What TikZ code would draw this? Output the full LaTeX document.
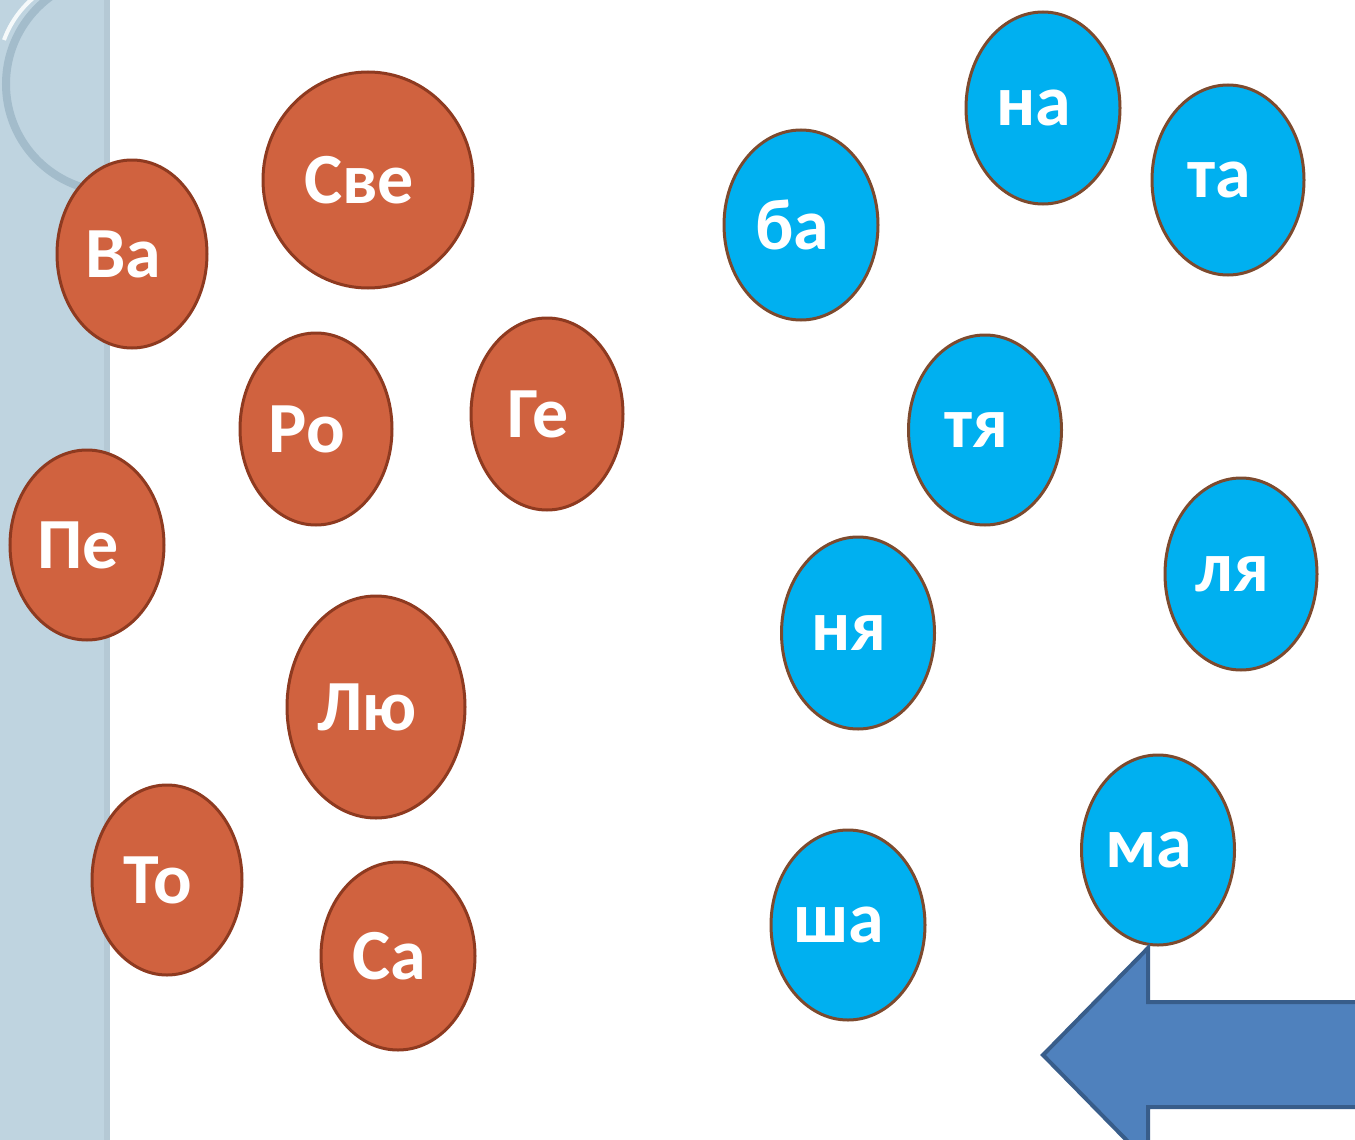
\documentclass[tikz,border=0pt]{standalone}
\usepackage{fontspec}
\setmainfont{Carlito}
\usetikzlibrary{shapes.geometric}
\definecolor{redfill}{HTML}{D0623F}
\definecolor{redline}{HTML}{8E3A20}
\definecolor{bluefill}{HTML}{00B0F0}
\definecolor{blueline}{HTML}{7D4A2E}
\definecolor{arrowfill}{HTML}{4F81BD}
\definecolor{arrowline}{HTML}{385D8A}
\definecolor{stripfill}{HTML}{BFD4E0}
\definecolor{stripring}{HTML}{A3BCCB}
\tikzset{
  syl/.style={ellipse, inner sep=0pt, line width=3pt, text=white,
    font=\fontsize{72}{80}\selectfont\bfseries,
    execute at end node={\hspace*{18pt}}},
  redsyl/.style={syl, draw=redline, fill=redfill},
  bluesyl/.style={syl, draw=blueline, fill=bluefill},
}
\begin{document}
\begin{tikzpicture}[x=1pt,y=-1pt]
\useasboundingbox (0,0) rectangle (1355,1140);
\fill[white] (0,0) rectangle (1355,1140);
% left decorative strip
\fill[stripfill] (0,0) rectangle (108,1140);
\fill[stripring!80!white] (104,0) rectangle (110,1140);
\begin{scope}
  \clip (0,0) rectangle (108,1140);
  \draw[stripring, line width=8pt] (114,84) circle (108);
  \draw[white!85!stripfill, line width=4pt] (4,40) arc[start angle=200, end angle=285, radius=100];
\end{scope}
% red syllables
\node[redsyl, minimum width=150, minimum height=188] (va) at (132,254) {Ва};
\node[redsyl, minimum width=210, minimum height=216] (sve) at (368,180) {Све};
\node[redsyl, minimum width=152, minimum height=192] (ro) at (316,429) {Ро};
\node[redsyl, minimum width=152, minimum height=192] (ge) at (547,414) {Ге};
\node[redsyl, minimum width=154, minimum height=190] (pe) at (87,545) {Пе};
\node[redsyl, minimum width=178, minimum height=222] (lyu) at (376,707) {Лю};
\node[redsyl, minimum width=150, minimum height=190] (to) at (167,880) {То};
\node[redsyl, minimum width=154, minimum height=188] (sa) at (398,956) {Са};
% blue syllables
\node[bluesyl, minimum width=154, minimum height=190] (ba) at (801,225) {ба};
\node[bluesyl, minimum width=154, minimum height=192] (na) at (1043,108) {на};
\node[bluesyl, minimum width=152, minimum height=190] (ta) at (1228,180) {та};
\node[bluesyl, minimum width=153, minimum height=190] (tya) at (985,430) {тя};
\node[bluesyl, minimum width=153, minimum height=192] (nya) at (858,633) {ня};
\node[bluesyl, minimum width=152, minimum height=192] (lya) at (1241,574) {ля};
\node[bluesyl, minimum width=153, minimum height=190] (ma) at (1158,850) {ма};
\node[bluesyl, minimum width=154, minimum height=190] (sha) at (848,925) {ша};
% big arrow
\draw[fill=arrowfill, draw=arrowline, line width=4pt, line join=miter]
  (1043,1055) -- (1148,948) -- (1148,1002) -- (1365,1002) -- (1365,1107)
  -- (1148,1107) -- (1148,1162) -- cycle;
\end{tikzpicture}
\end{document}
